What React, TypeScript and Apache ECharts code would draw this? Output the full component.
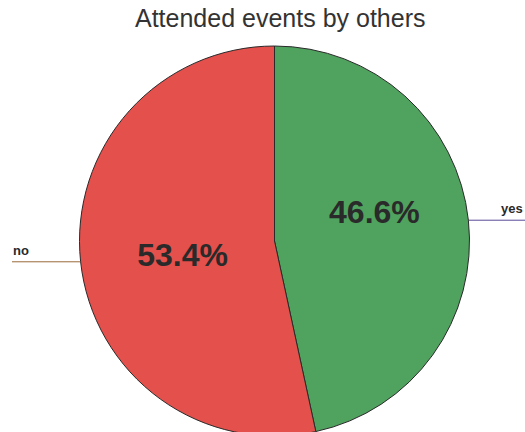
import React, { useEffect, useRef } from "react";
import * as echarts from "echarts";

const title = "Attended events by others";
const categories = ["yes", "no"];
const values = [46.6, 53.4];
const sliceColors = ["#4fa35e", "#e4504c"];
const lineColors = ["#5a4a9a", "#9a6a3a"];
const insideOffsets: [number, number][] = [
  [0, -18],
  [8, 3],
];

export default function App() {
  const ref = useRef<HTMLDivElement>(null);
  useEffect(() => {
    const chart = echarts.init(ref.current!, undefined, { renderer: "svg" });
    const center = [274.5, 241];
    const radius = 195;
    chart.setOption({
      animation: false,
      title: {
        text: title,
        left: 130,
        top: 0,
        textStyle: {
          fontFamily: "Liberation Sans, Arial, sans-serif",
          fontSize: 25,
          fontWeight: "normal",
          color: "#333333",
        },
      },
      series: [
        {
          type: "pie",
          center,
          radius,
          startAngle: 90,
          clockwise: true,
          silent: true,
          itemStyle: { borderColor: "#2a2a2a", borderWidth: 1 },
          label: {
            show: true,
            position: "inside",
            formatter: (p: any) => p.value.toFixed(1) + "%",
            fontFamily: "Liberation Sans, Arial, sans-serif",
            fontSize: 32,
            fontWeight: "bold",
            color: "#2a2a2a",
          },
          labelLine: { show: false },
          data: categories.map((c, i) => ({
            name: c,
            value: values[i],
            itemStyle: { color: sliceColors[i] },
            label: { offset: insideOffsets[i] },
          })),
        },
        {
          type: "pie",
          center,
          radius,
          startAngle: 90,
          clockwise: true,
          silent: true,
          itemStyle: { color: "transparent", borderWidth: 0 },
          label: {
            show: true,
            position: "outside",
            formatter: "{b}",
            overflow: "none",
            fontFamily: "Liberation Sans, Arial, sans-serif",
            fontSize: 13,
            fontWeight: "bold",
            color: "#2a2a2a",
          },
          labelLine: { show: true, length: 0, length2: 40, smooth: false },
          labelLayout: (p: any) => {
            const pts = p.labelLinePoints;
            if (!pts) return {};
            const x0 = pts[0][0];
            const y0 = pts[0][1];
            const isLeft = pts[2][0] < x0;
            const endX = isLeft ? 12 : 530;
            return {
              x: isLeft ? 13 : 501,
              y: y0 - 5,
              align: "left",
              verticalAlign: "bottom",
              labelLinePoints: [
                [x0, y0],
                [x0, y0],
                [endX, y0],
              ],
            };
          },
          data: categories.map((c, i) => ({
            name: c,
            value: values[i],
            label: { width: 60, overflow: "none" },
            labelLine: { lineStyle: { color: lineColors[i], width: 1 } },
          })),
        },
      ],
    });
    return () => chart.dispose();
  }, []);
  return (
    <div
      ref={ref}
      style={{ position: "fixed", left: 0, top: 0, width: 525, height: 432, background: "#ffffff" }}
    />
  );
}
